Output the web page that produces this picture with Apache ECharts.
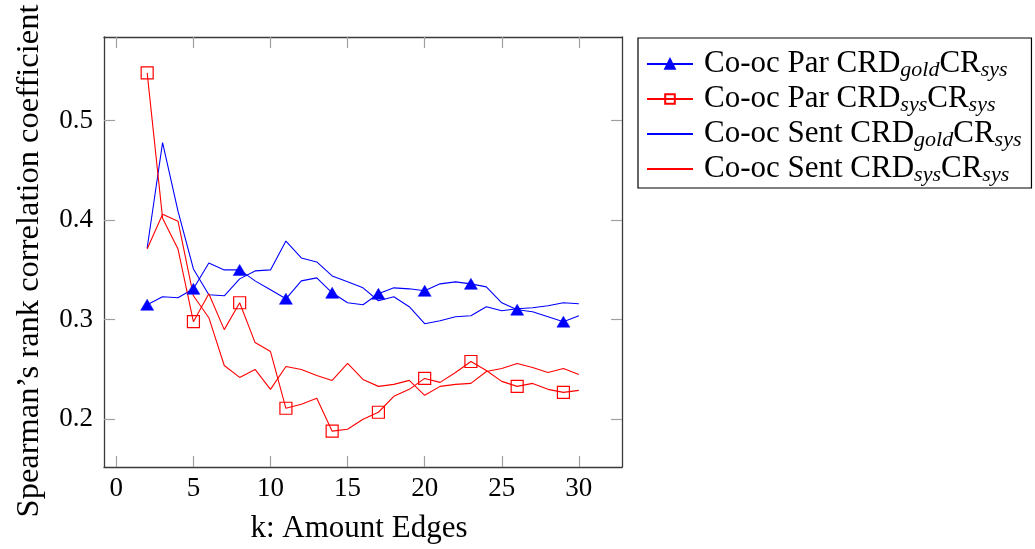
<!DOCTYPE html>
<html>
<head>
<meta charset="utf-8">
<script src="https://cdn.jsdelivr.net/npm/echarts@6/dist/echarts.min.js"></script>
<style>
  html, body { margin: 0; padding: 0; background: #fff; }
  #chart { width: 1035px; height: 549px; }
</style>
</head>
<body>
<div id="chart"></div>
<script>
// k: number of edges
const kValues = [2,3,4,5,6,7,8,9,10,11,12,13,14,15,16,17,18,19,20,21,22,23,24,25,26,27,28,29,30];

// Spearman's rank correlation per k
const parGold = [0.315,0.323,0.322,0.331,0.357,0.350,0.350,0.339,0.330,0.321,0.339,0.342,0.327,0.317,0.315,0.326,0.332,0.331,0.329,0.336,0.338,0.336,0.333,0.317,0.310,0.308,0.303,0.298,0.304];
const parSys = [0.548,0.402,0.371,0.298,0.326,0.290,0.317,0.277,0.268,0.211,0.215,0.221,0.188,0.190,0.200,0.207,0.223,0.230,0.241,0.237,0.247,0.258,0.249,0.238,0.233,0.236,0.230,0.227,0.229];
const sentGold = [0.372,0.478,0.409,0.351,0.325,0.324,0.341,0.349,0.350,0.379,0.362,0.358,0.344,0.338,0.332,0.319,0.323,0.313,0.296,0.299,0.303,0.304,0.313,0.309,0.311,0.312,0.314,0.317,0.316];
const sentSys = [0.371,0.406,0.399,0.324,0.302,0.254,0.242,0.250,0.230,0.253,0.250,0.244,0.239,0.256,0.240,0.233,0.235,0.239,0.224,0.233,0.235,0.236,0.248,0.251,0.256,0.252,0.247,0.251,0.245];

// tick labels
const xTicks = [0,5,10,15,20,25,30];
const yTicks = [0.2,0.3,0.4,0.5];

// legend entries: base text, first subscript, second subscript
const legendParts = {
  'parGold':  ['Co-oc Par', 'gold', 'sys'],
  'parSys':   ['Co-oc Par', 'sys', 'sys'],
  'sentGold': ['Co-oc Sent', 'gold', 'sys'],
  'sentSys':  ['Co-oc Sent', 'sys', 'sys']
};

const FONT = '"Liberation Serif", "DejaVu Serif", serif';
const WORD_SIZE = 31;
const NUM_SIZE = 27;
const BLUE = '#0000ff';
const RED = '#ff0000';
const FRAME = '#3a3a3a';
const TICK = '#a0a0a0';

function pairs(vals) {
  return kValues.map((k, i) => [k, vals[i]]);
}
// markers on every third point, starting with the first
function marked(vals) {
  return kValues.map((k, i) => ({ value: [k, vals[i]], symbol: i % 3 === 0 ? undefined : 'none' }));
}

const xRange = { min: -0.8, max: 32.8 };
const yRange = { min: 0.152, max: 0.584 };

const chart = echarts.init(document.getElementById('chart'), null, { renderer: 'canvas' });

const frameLine = { show: true, onZero: false, lineStyle: { color: FRAME, width: 1.3 } };
const tickStyle = { color: TICK, width: 1.2 };

chart.setOption({
  animation: false,
  backgroundColor: '#fff',
  grid: { left: 104, right: 413, top: 37, bottom: 80, containLabel: false },
  xAxis: [
    {
      type: 'value', ...xRange, position: 'bottom',
      axisLine: frameLine,
      axisTick: { show: true, inside: true, length: 11, customValues: xTicks, lineStyle: tickStyle },
      axisLabel: { show: true, customValues: xTicks, fontFamily: FONT, fontSize: NUM_SIZE, color: '#000', margin: 8 },
      splitLine: { show: false },
      name: 'k: Amount Edges', nameLocation: 'middle', nameGap: 46,
      nameTextStyle: { fontFamily: FONT, fontSize: WORD_SIZE, color: '#000', padding: [0, 8, 0, 0] }
    },
    {
      type: 'value', ...xRange, position: 'top',
      axisLine: frameLine,
      axisTick: { show: true, inside: true, length: 11, customValues: xTicks, lineStyle: tickStyle },
      axisLabel: { show: false },
      splitLine: { show: false }
    }
  ],
  yAxis: [
    {
      type: 'value', ...yRange, position: 'left',
      axisLine: frameLine,
      axisTick: { show: true, inside: true, length: 11, customValues: yTicks, lineStyle: tickStyle },
      axisLabel: { show: true, customValues: yTicks, fontFamily: FONT, fontSize: NUM_SIZE, color: '#000', margin: 11,
                   formatter: v => v.toFixed(1) },
      splitLine: { show: false },
      name: 'Spearman\u2019s rank correlation coefficient', nameLocation: 'middle', nameGap: 58, nameRotate: 90,
      nameTextStyle: { fontFamily: FONT, fontSize: 32.5, color: '#000', padding: [0, 18, 0, 0] }
    },
    {
      type: 'value', ...yRange, position: 'right',
      axisLine: frameLine,
      axisTick: { show: true, inside: true, length: 11, customValues: yTicks, lineStyle: tickStyle },
      axisLabel: { show: false },
      splitLine: { show: false }
    }
  ],
  legend: {
    orient: 'vertical',
    left: 638, top: 38,
    padding: [9, 10, 2, 8],
    itemGap: 1,
    itemWidth: 46, itemHeight: 12,
    borderColor: '#000', borderWidth: 1.2,
    data: [
      { name: 'parGold' },
      { name: 'parSys' },
      { name: 'sentGold', itemStyle: { opacity: 0 } },
      { name: 'sentSys', itemStyle: { opacity: 0 } }
    ],
    formatter: name => {
      const p = legendParts[name];
      return p[0] + ' CRD{sub|' + p[1] + '}CR{sub|' + p[2] + '}';
    },
    textStyle: {
      fontFamily: FONT, fontSize: WORD_SIZE, color: '#000', lineHeight: 32, padding: [0, 0, 0, 6],
      rich: {
        sub: { fontFamily: FONT, fontSize: 22, fontStyle: 'italic', color: '#000', padding: [12, 0, 0, 0], lineHeight: 32 }
      }
    }
  },
  series: [
    {
      name: 'parGold', type: 'line', data: marked(parGold),
      symbol: 'triangle', symbolSize: [13, 11], showAllSymbol: true,
      lineStyle: { color: BLUE, width: 1.1 },
      itemStyle: { color: BLUE, borderColor: BLUE, borderWidth: 0.5 },
      z: 3
    },
    {
      name: 'parSys', type: 'line', data: marked(parSys),
      symbol: 'rect', symbolSize: 12, showAllSymbol: true,
      lineStyle: { color: RED, width: 1.1 },
      itemStyle: { color: 'rgba(255,255,255,0)', borderColor: RED, borderWidth: 1.2 },
      z: 3
    },
    {
      name: 'sentGold', type: 'line', data: pairs(sentGold),
      symbol: 'none',
      lineStyle: { color: BLUE, width: 1.1 },
      itemStyle: { color: BLUE },
      z: 2
    },
    {
      name: 'sentSys', type: 'line', data: pairs(sentSys),
      symbol: 'none',
      lineStyle: { color: RED, width: 1.1 },
      itemStyle: { color: RED },
      z: 2
    }
  ]
});
</script>
</body>
</html>
